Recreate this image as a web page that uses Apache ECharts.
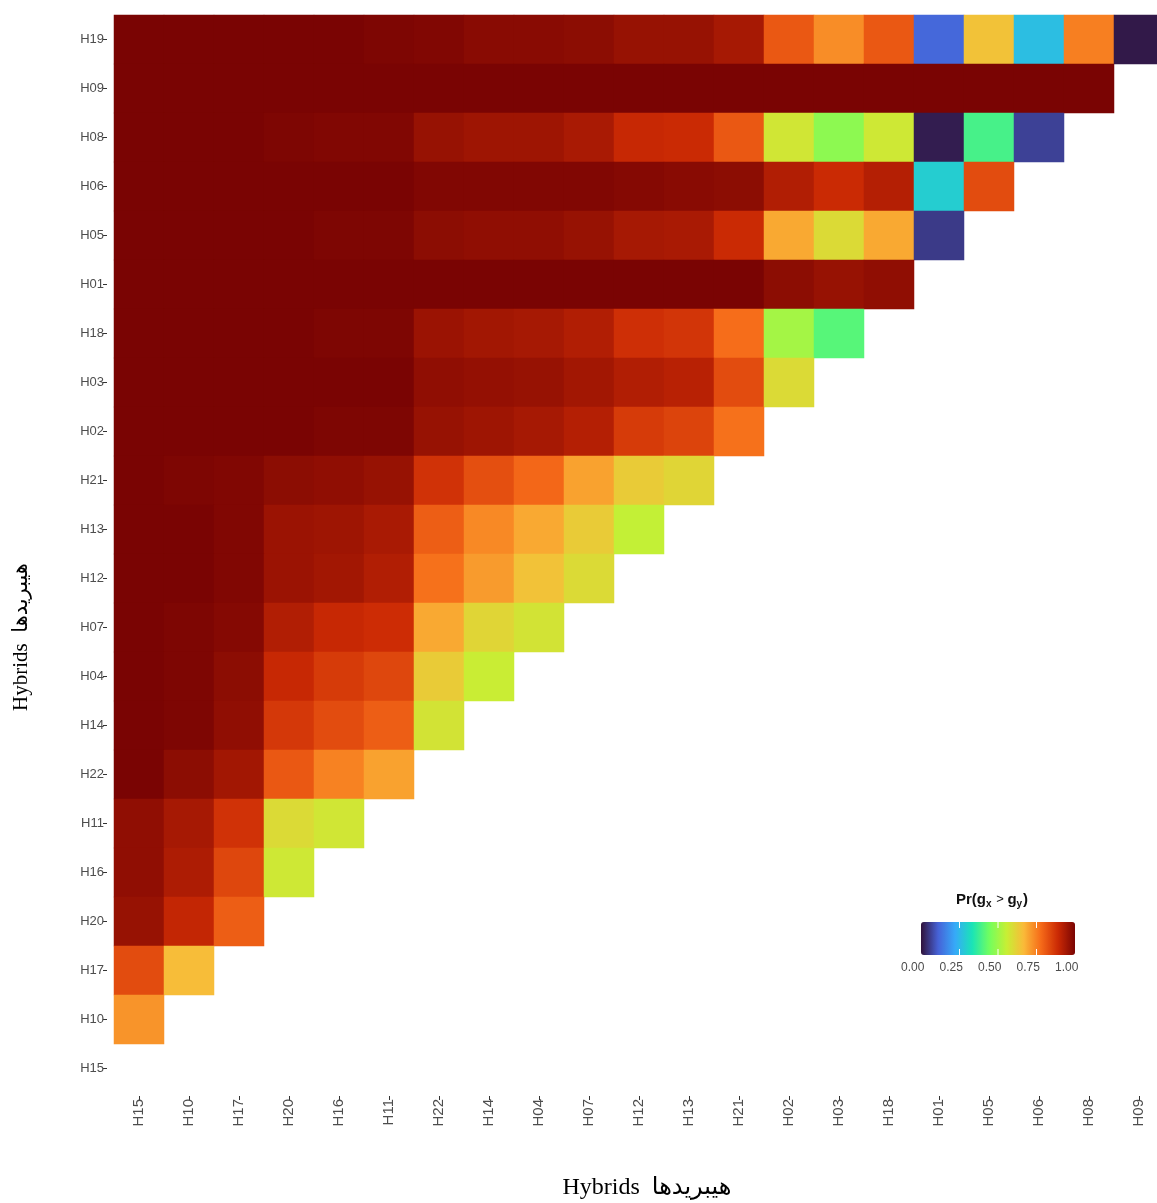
<!DOCTYPE html>
<html>
<head>
<meta charset="utf-8">
<script src="https://cdn.jsdelivr.net/npm/echarts@6/dist/echarts.min.js"></script>
<style>
html,body{margin:0;padding:0;background:#ffffff;}
#chart{width:1157px;height:1203px;}
</style>
</head>
<body>
<div id="chart"></div>
<script>
// ---- data ----
const xCats = ['H15','H10','H17','H20','H16','H11','H22','H14','H04','H07','H12','H13','H21','H02','H03','H18','H01','H05','H06','H08','H09'];
const yCats = ['H19','H09','H08','H06','H05','H01','H18','H03','H02','H21','H13','H12','H07','H04','H14','H22','H11','H16','H20','H17','H10','H15'];

// one row per yCats entry (top to bottom); values follow xCats order
const rowH19 = [1.00,1.00,1.00,1.00,1.00,0.995,0.99,0.98,0.98,0.975,0.96,0.96,0.94,0.81,0.73,0.81,0.12,0.65,0.26,0.75,0.01];
const rowH09 = [1.00,1.00,1.00,1.00,1.00,1.00,1.00,1.00,1.00,1.00,1.00,1.00,1.00,1.00,1.00,1.00,1.00,1.00,1.00,1.00];
const rowH08 = [1.00,1.00,1.00,0.995,0.99,0.99,0.96,0.95,0.95,0.935,0.895,0.89,0.81,0.575,0.48,0.57,0.015,0.39,0.065];
const rowH06 = [1.00,1.00,1.00,1.00,1.00,1.00,0.99,0.99,0.99,0.99,0.985,0.98,0.975,0.925,0.89,0.92,0.29,0.83];
const rowH05 = [1.00,1.00,1.00,1.00,0.995,0.995,0.975,0.97,0.97,0.96,0.94,0.935,0.89,0.69,0.60,0.69,0.055];
const rowH01 = [1.00,1.00,1.00,1.00,1.00,1.00,1.00,1.00,1.00,1.00,1.00,1.00,1.00,0.975,0.96,0.97];
const rowH18 = [1.00,1.00,1.00,1.00,0.995,0.995,0.955,0.945,0.94,0.925,0.88,0.87,0.775,0.51,0.41];
const rowH03 = [1.00,1.00,1.00,1.00,1.00,1.00,0.97,0.965,0.96,0.945,0.925,0.915,0.83,0.60];
const rowH02 = [1.00,1.00,1.00,1.00,0.995,0.995,0.96,0.95,0.94,0.92,0.86,0.845,0.77];
const rowH21 = [1.00,0.995,0.99,0.975,0.97,0.96,0.875,0.825,0.785,0.70,0.63,0.61];
const rowH13 = [1.00,1.00,0.99,0.955,0.95,0.935,0.80,0.735,0.69,0.63,0.55];
const rowH12 = [1.00,1.00,0.99,0.955,0.945,0.925,0.77,0.71,0.65,0.60];
const rowH07 = [1.00,0.995,0.985,0.925,0.895,0.885,0.69,0.61,0.58];
const rowH04 = [1.00,0.995,0.975,0.895,0.86,0.84,0.63,0.56];
const rowH14 = [1.00,0.995,0.97,0.865,0.83,0.80,0.58];
const rowH22 = [1.00,0.975,0.945,0.81,0.745,0.70];
const rowH11 = [0.97,0.94,0.875,0.60,0.575];
const rowH16 = [0.97,0.93,0.84,0.57];
const rowH20 = [0.96,0.90,0.80];
const rowH17 = [0.83,0.66];
const rowH10 = [0.72];
const rowH15 = [];

const legendTicks = [0, 0.25, 0.5, 0.75, 1];
const turbo = ['#30123B','#4662D7','#36AAF9','#1AE4B6','#72FE5E','#C7EF34','#FABA39','#F66B19','#CB2A04','#7A0403'];

// ---- build ----
const rows = [rowH19,rowH09,rowH08,rowH06,rowH05,rowH01,rowH18,rowH03,rowH02,rowH21,rowH13,rowH12,rowH07,rowH04,rowH14,rowH22,rowH11,rowH16,rowH20,rowH17,rowH10,rowH15];
const cells = [];
rows.forEach((row, yi) => row.forEach((v, xi) => cells.push([xi, yi, v])));

const sans = "'Liberation Sans', Arial, 'DejaVu Sans', sans-serif";
const serif = "'Liberation Serif', 'Times New Roman', 'DejaVu Sans', serif";
const titleText = 'Hybrids  هیبریدها';

// legend bar geometry
const barL = 921, barT = 922, barLen = 154, barThick = 33;

const graphics = [];
legendTicks.forEach(t => {
  const x = barL + t * barLen;
  graphics.push({
    type: 'text', left: x - 20, top: barT + barThick + 7,
    style: { text: t.toFixed(2), x: 0, y: 0, width: 40, align: 'center', fill: '#4d4d4d', font: '12px ' + sans },
    z: 100
  });
  if (t > 0 && t < 1) {
    graphics.push({ type: 'line', z: 100, shape: { x1: x, y1: barT, x2: x, y2: barT + 6 }, style: { stroke: '#ffffff', lineWidth: 1 } });
    graphics.push({ type: 'line', z: 100, shape: { x1: x, y1: barT + barThick - 6, x2: x, y2: barT + barThick }, style: { stroke: '#ffffff', lineWidth: 1 } });
  }
});
graphics.push({
  type: 'text', z: 100,
  left: barL + barLen / 2 - 42, top: 892,
  style: {
    text: '{m|Pr(g}{s|x}{o| > }{m|g}{s|y}{m|)}',
    rich: {
      m: { fontSize: 15, fontWeight: 'bold', fontFamily: sans, fill: '#111', lineHeight: 20, verticalAlign: 'middle' },
      o: { fontSize: 13, fontFamily: sans, fill: '#111', lineHeight: 20, verticalAlign: 'middle' },
      s: { fontSize: 10, fontWeight: 'bold', fontFamily: sans, fill: '#111', lineHeight: 20, verticalAlign: 'bottom', padding: [0, 1, 0, 0] }
    }
  }
});

const chart = echarts.init(document.getElementById('chart'), null, { renderer: 'canvas' });
chart.setOption({
  backgroundColor: '#ffffff',
  animation: false,
  grid: { left: 114, top: 15, width: 1050, height: 1078, containLabel: false, outerBoundsMode: 'none' },
  xAxis: {
    type: 'category', data: xCats, offset: 3,
    axisLine: { show: false },
    axisTick: { show: true, length: 4, alignWithLabel: true, lineStyle: { color: '#333333', width: 1 } },
    axisLabel: { rotate: 90, interval: 0, margin: 3, fontSize: 15, color: '#4d4d4d', fontFamily: sans },
    splitLine: { show: false },
    name: titleText, nameLocation: 'middle', nameGap: 80,
    nameTextStyle: { fontSize: 24, color: '#000', fontFamily: serif, padding: [0, 0, 0, 16] }
  },
  yAxis: {
    type: 'category', data: yCats, inverse: true, offset: 7,
    axisLine: { show: false },
    axisTick: { show: true, length: 4, alignWithLabel: true, lineStyle: { color: '#333333', width: 1 } },
    axisLabel: { interval: 0, margin: 3, fontSize: 13, color: '#4d4d4d', fontFamily: sans },
    splitLine: { show: false },
    name: titleText, nameLocation: 'middle', nameGap: 75,
    nameTextStyle: { fontSize: 21, color: '#000', fontFamily: serif, padding: [0, 166, 0, 0] }
  },
  visualMap: {
    type: 'continuous', min: 0, max: 1, orient: 'horizontal',
    left: barL, top: barT, itemWidth: barThick, itemHeight: barLen,
    calculable: false, realtime: false, padding: 0, text: null, showLabel: false,
    inRange: { color: turbo }, hoverLink: false
  },
  graphic: graphics,
  series: [{
    type: 'heatmap',
    data: cells,
    itemStyle: { borderWidth: 0 },
    emphasis: { disabled: true },
    progressive: 0
  }]
});
</script>
</body>
</html>
